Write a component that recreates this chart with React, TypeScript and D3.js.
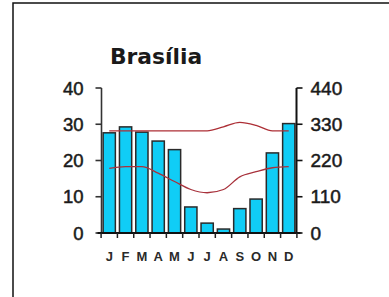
import * as d3 from 'd3';
import React from 'react';

// climate chart: precipitation bars (right axis, mm) + temperature lines (left axis, °C)
const months = ['J', 'F', 'M', 'A', 'M', 'J', 'J', 'A', 'S', 'O', 'N', 'D'];
const precipitation = [304, 322, 306, 279, 253, 79, 30, 12, 74, 103, 243, 332];
const tempMax = [28.2, 28.2, 28.2, 28.2, 28.2, 28.2, 28.2, 29.3, 30.5, 29.7, 28.2, 28.2];
const tempMin = [17.8, 18.3, 18.3, 16.5, 14.2, 12.0, 11.1, 12.0, 15.5, 16.9, 18.0, 18.3];
const leftTicks = [0, 10, 20, 30, 40];
const rightTicks = [0, 110, 220, 330, 440];

const params = {
  width: 389,
  height: 297,
  left: 101.5,
  right: 296.5,
  top: 88,
  bottom: 233,
};

const font = '"Liberation Sans", Arial, sans-serif';

export default function App() {
  const idx = months.map((_, i) => i);
  const x = d3.scaleBand<number>()
    .domain(idx)
    .range([params.left, params.right])
    .paddingInner(0.25)
    .paddingOuter(0.1);
  const yLeft = d3.scaleLinear().domain([0, 40]).range([params.bottom, params.top]);
  const yRight = d3.scaleLinear().domain([0, 440]).range([params.bottom, params.top]);

  const line = d3.line<number>()
    .x((_, i) => (x(i) as number) + x.bandwidth() / 2)
    .y(d => yLeft(d))
    .curve(d3.curveMonotoneX);

  // boundaries between months for the bottom ticks
  const step = x.step();
  const boundaries = d3.range(13).map(i => (x(0) as number) - (step - x.bandwidth()) / 2 + i * step);

  return (
    <div style={{ position: 'fixed', left: 0, top: 0 }}>
      <svg width={params.width} height={params.height} style={{ display: 'block', background: '#fff' }}>
        <rect x={13} y={3} width={390} height={310} fill="none" stroke="#111" strokeWidth={1.5} />

        <text x={110} y={64} fontFamily='"DejaVu Sans", sans-serif' fontWeight="bold" fontSize={21.8} fill="#1a1a1a">
          Brasília
        </text>

        <g id="bars">
          {precipitation.map((d, i) => (
            <rect key={i}
              x={x(i)}
              y={yRight(d)}
              width={x.bandwidth()}
              height={params.bottom - yRight(d)}
              fill="#10cdf6"
              stroke="#2a2a2a"
              strokeWidth={1.5} />
          ))}
        </g>

        <path d={line(tempMax) || ''} fill="none" stroke="#ad2f36" strokeWidth={1.3} />
        <path d={line(tempMin) || ''} fill="none" stroke="#a8323c" strokeWidth={1.3} />

        {/* left axis */}
        <line x1={params.left} x2={params.left} y1={params.top} y2={params.bottom} stroke="#333" strokeWidth={1.6} />
        {leftTicks.map(t => (
          <g key={t} transform={`translate(0,${yLeft(t)})`}>
            <line x1={params.left - 6} x2={params.left} y1={0} y2={0} stroke="#333" strokeWidth={1.6} />
            <text x={params.left - 18} y={6.5} textAnchor="end" fontFamily={font} fontSize={18.5}
              fill="#1a1a1a" stroke="#1a1a1a" strokeWidth={0.5}>{t}</text>
          </g>
        ))}

        {/* right axis */}
        <line x1={params.right} x2={params.right} y1={params.top} y2={params.bottom} stroke="#111" strokeWidth={2} />
        {rightTicks.map(t => (
          <g key={t} transform={`translate(0,${yRight(t)})`}>
            <line x1={params.right} x2={params.right + 6} y1={0} y2={0} stroke="#111" strokeWidth={1.6} />
            <text x={params.right + 14} y={6.5} textAnchor="start" fontFamily={font} fontSize={19}
              fill="#1a1a1a" stroke="#1a1a1a" strokeWidth={0.5}>{t}</text>
          </g>
        ))}

        {/* bottom axis */}
        <line x1={params.left - 4} x2={params.right + 4} y1={params.bottom} y2={params.bottom} stroke="#111" strokeWidth={2} />
        {boundaries.map((b, i) => (
          <line key={i} x1={b} x2={b} y1={params.bottom} y2={params.bottom + 5} stroke="#222" strokeWidth={1.5} />
        ))}
        {months.map((m, i) => (
          <text key={i}
            x={(x(i) as number) + x.bandwidth() / 2}
            y={261}
            textAnchor="middle"
            fontFamily={font}
            fontWeight="bold"
            fontSize={13}
            fill="#2a2a2a">{m}</text>
        ))}
      </svg>
    </div>
  );
}
